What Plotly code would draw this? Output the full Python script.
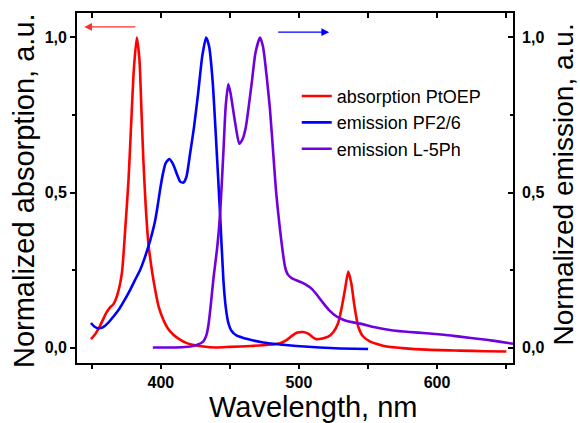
import plotly.graph_objects as go

# ---- data ----
abs_ptoep_x = [349.4, 352, 356, 360.4, 363, 365.7, 368.5, 371.8, 374.2, 376.6, 378.5, 380.5, 382.6,
               384.5, 386, 387.4, 389, 391, 393.5, 395.9, 398.5, 401.9, 405, 409.1, 413, 418.8, 425,
               430.8, 440, 450, 465, 478, 486.3, 491, 495.9, 499, 503.1, 507, 510, 512.8, 517, 521.2,
               525, 528.4, 531, 533.3, 535.7, 538, 540, 542.9, 546, 551.3, 556, 563.4, 575, 592.3,
               616.4, 635, 650.2]
abs_ptoep_y = [0.027, 0.04, 0.07, 0.111, 0.128, 0.14, 0.17, 0.24, 0.38, 0.54, 0.72, 0.9, 1.0,
               0.93, 0.76, 0.6, 0.46, 0.335, 0.25, 0.186, 0.13, 0.089, 0.062, 0.041, 0.028, 0.014, 0.007,
               0.003, 0.0, 0.002, 0.005, 0.009, 0.014, 0.024, 0.041, 0.048, 0.05, 0.044, 0.033, 0.027, 0.029, 0.035,
               0.05, 0.079, 0.13, 0.186, 0.245, 0.205, 0.14, 0.068, 0.038, 0.02, 0.012, 0.003, -0.002, -0.007,
               -0.01, -0.012, -0.013]

em_pf26_x = [349.4, 352, 354.9, 358, 362, 365.7, 370, 374, 377.8, 381, 385, 388, 391, 393.5, 395.9,
             397.8, 399.5, 401.5, 403.5, 406.2, 409, 412, 414, 416.3, 418.5, 421, 424, 427, 430, 432.8,
             435, 437.5, 440, 442.9, 445.3, 447, 448.9, 451, 455, 462, 474.2, 486, 498.3, 515, 530, 550.1]
em_pf26_y = [0.079, 0.067, 0.062, 0.065, 0.08, 0.1, 0.125, 0.155, 0.186, 0.215, 0.25, 0.285, 0.326, 0.365, 0.41,
             0.46, 0.51, 0.56, 0.595, 0.608, 0.59, 0.555, 0.535, 0.532, 0.55, 0.62, 0.71, 0.82, 0.94, 1.0,
             0.97, 0.86, 0.67, 0.43, 0.218, 0.13, 0.079, 0.055, 0.038, 0.028, 0.016, 0.01, 0.005, 0.0, -0.003, -0.005]

em_l5ph_x = [394.2, 405, 415, 421.2, 426, 430.8, 433, 434.4, 436, 438, 441, 442.9, 445.3, 447, 448.9,
             450.5, 452, 454, 456.8, 459, 461.5, 464, 466, 468.5, 471.8, 474, 476.5, 479, 481.5, 483.5,
             486.3, 489.9, 492, 494.7, 498, 501.9, 505, 509.1, 513, 517.6, 522, 527.3, 533, 539.3, 544.4,
             555, 568.2, 580, 592.3, 605, 616.4, 635.7, 645, 655]
em_l5ph_y = [0.0, 0.0, 0.001, 0.003, 0.008, 0.02, 0.04, 0.07, 0.13, 0.218, 0.33, 0.43, 0.63, 0.78, 0.85,
             0.82, 0.777, 0.72, 0.657, 0.67, 0.71, 0.79, 0.86, 0.95, 1.0, 0.97, 0.88, 0.77, 0.62, 0.5,
             0.38, 0.261, 0.235, 0.224, 0.217, 0.21, 0.203, 0.19, 0.17, 0.143, 0.12, 0.1, 0.088, 0.081, 0.077,
             0.065, 0.055, 0.05, 0.046, 0.041, 0.035, 0.025, 0.019, 0.012]

series_names = ["absorption PtOEP", "emission PF2/6", "emission L-5Ph"]
x_tickvals = [350, 400, 450, 500, 550, 600, 650]
x_ticktext = ["", "400", "", "500", "", "600", ""]
y_tickvals = [0.0, 0.5, 1.0]
y_ticktext = ["0,0", "0,5", "1,0"]
y_minor = [0.25, 0.75]

x_range = [339.3, 655.0]
y_range = [-0.05, 1.079]

FONT = "Liberation Sans, Arial, sans-serif"
RED, BLUE, PURPLE = "#ff0000", "#0000ff", "#7000e0"

fig = go.Figure()
fig.add_trace(go.Scatter(x=abs_ptoep_x, y=abs_ptoep_y, name=series_names[0], mode="lines",
                         line=dict(color=RED, width=2.6, shape="spline", smoothing=0.6)))
fig.add_trace(go.Scatter(x=em_pf26_x, y=em_pf26_y, name=series_names[1], mode="lines",
                         xaxis="x2", yaxis="y2",
                         line=dict(color=BLUE, width=2.6, shape="spline", smoothing=0.6)))
fig.add_trace(go.Scatter(x=em_l5ph_x, y=em_l5ph_y, name=series_names[2], mode="lines",
                         xaxis="x2", yaxis="y2",
                         line=dict(color=PURPLE, width=2.6, shape="spline", smoothing=0.6)))

tickfont = dict(family=FONT, size=16, color="black")
bold = lambda labels: [f"<b>{t}</b>" if t else "" for t in labels]

fig.update_layout(
    width=580, height=423,
    margin=dict(l=77, r=67, t=13, b=60),
    paper_bgcolor="white", plot_bgcolor="white",
    font=dict(family=FONT, color="black"),
    xaxis=dict(range=x_range, showgrid=False, zeroline=False, showline=True, linecolor="black",
               linewidth=1.8, ticks="outside", ticklen=4, tickwidth=1.5, tickcolor="black",
               tickmode="array", tickvals=x_tickvals, ticktext=bold(x_ticktext), tickfont=tickfont),
    xaxis2=dict(range=x_range, overlaying="x", side="top", anchor="y2", showgrid=False, zeroline=False,
                showline=True, linecolor="black", linewidth=1.8, ticks="inside", ticklen=5, tickwidth=1.5,
                tickcolor="black", tickmode="array", tickvals=x_tickvals, showticklabels=False),
    yaxis=dict(range=y_range, showgrid=False, zeroline=False, showline=True, linecolor="black",
               linewidth=1.8, ticks="outside", ticklen=5, tickwidth=1.5, tickcolor="black",
               tickmode="array", tickvals=y_tickvals, ticktext=bold(y_ticktext), tickfont=tickfont,
               minor=dict(tickvals=y_minor, ticks="outside", ticklen=3, tickwidth=1.5, tickcolor="black")),
    yaxis2=dict(range=y_range, overlaying="y", side="right", anchor="x2", showgrid=False, zeroline=False,
                showline=True, linecolor="black", linewidth=1.8, ticks="inside", ticklen=5, tickwidth=1.5,
                tickcolor="black", tickmode="array", tickvals=y_tickvals, ticktext=bold(y_ticktext),
                tickfont=tickfont, ticklabelstandoff=4,
                minor=dict(tickvals=y_minor, ticks="inside", ticklen=3, tickwidth=1.5, tickcolor="black")),
    legend=dict(x=0.504, y=0.815, xanchor="left", yanchor="top", bgcolor="rgba(0,0,0,0)",
                font=dict(family=FONT, size=18, color="black"), tracegroupgap=0),
    annotations=[
        dict(text="Wavelength, nm", xref="paper", yref="paper", x=0.541, y=-0.125,
             xanchor="center", yanchor="middle", showarrow=False,
             font=dict(family=FONT, size=29, color="black")),
        dict(text="Normalized absorption, a.u.", xref="paper", yref="paper", x=-0.121, y=0.492,
             xanchor="center", yanchor="middle", textangle=-90, showarrow=False,
             font=dict(family=FONT, size=29, color="black")),
        dict(text="Normalized emission, a.u.", xref="paper", yref="paper", x=1.116, y=0.509,
             xanchor="center", yanchor="middle", textangle=-90, showarrow=False,
             font=dict(family=FONT, size=28, color="black")),
        dict(text="", x=344.5, y=1.034, ax=382.6, ay=1.034, xref="x", yref="y", axref="x", ayref="y",
             showarrow=True, arrowhead=2, arrowsize=1.3, arrowwidth=1.2, arrowcolor="#ff3030"),
        dict(text="", x=521.9, y=1.017, ax=483.9, ay=1.017, xref="x", yref="y", axref="x", ayref="y",
             showarrow=True, arrowhead=2, arrowsize=1.3, arrowwidth=1.2, arrowcolor="#0000ff"),
    ],
)

fig.write_html("out.html")
